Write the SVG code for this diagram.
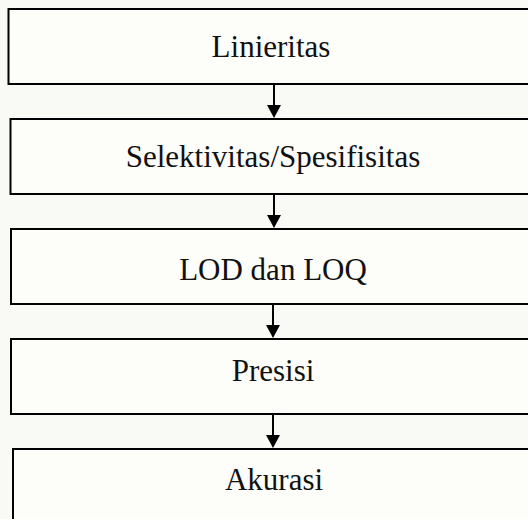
<svg xmlns="http://www.w3.org/2000/svg" width="528" height="519" viewBox="0 0 528 519">
<style>
.box{fill:#fdfdf9;stroke:#000;stroke-width:2}
.lbl{font-family:"Liberation Serif","Times New Roman",serif;font-size:31px;fill:#111;text-anchor:middle}
.ln{stroke:#000;stroke-width:2;fill:none}
.hd{fill:#000}
</style>
<rect width="528" height="519" fill="#f9f9f6"/>
<g id="n1"><rect class="box" x="8.5" y="9" width="530" height="75"/><text class="lbl" x="271" y="57">Linieritas</text></g>
<g id="n2"><rect class="box" x="10.5" y="119" width="530" height="75"/><text class="lbl" x="273" y="167">Selektivitas/Spesifisitas</text></g>
<g id="n3"><rect class="box" x="11" y="229" width="530" height="75"/><text class="lbl" x="273" y="280">LOD dan LOQ</text></g>
<g id="n4"><rect class="box" x="11" y="339" width="530" height="75"/><text class="lbl" x="273" y="381">Presisi</text></g>
<g id="n5"><rect class="box" x="13" y="449" width="530" height="80"/><text class="lbl" x="274" y="490">Akurasi</text></g>
<g id="connectors">
<line class="ln" x1="274" y1="84" x2="274" y2="106"/><polygon class="hd" points="267,105 281,105 274,118"/>
<line class="ln" x1="274" y1="194" x2="274" y2="216"/><polygon class="hd" points="267,215 281,215 274,228"/>
<line class="ln" x1="273" y1="304" x2="273" y2="326"/><polygon class="hd" points="266,325 280,325 273,338"/>
<line class="ln" x1="273" y1="414" x2="273" y2="436"/><polygon class="hd" points="266,435 280,435 273,448"/>
</g>
</svg>
